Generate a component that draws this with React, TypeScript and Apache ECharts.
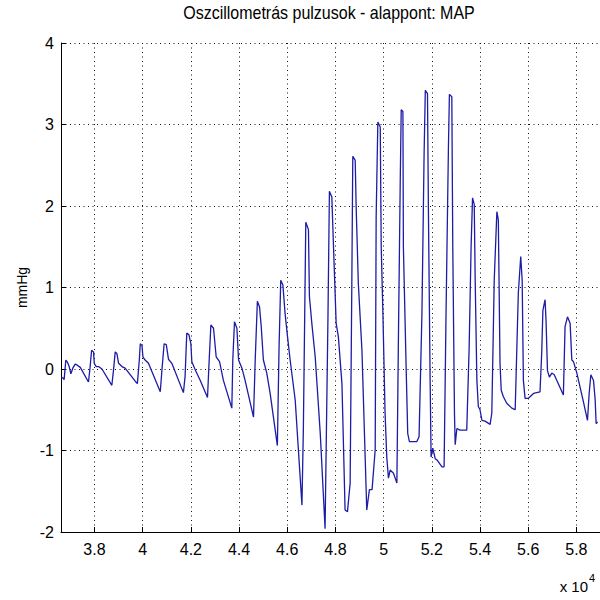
import React, { useEffect, useRef } from "react";
import * as echarts from "echarts";

const titleText = "Oszcillometrás pulzusok - alappont: MAP";
const yAxisName = "mmHg";
const xExponentBase = "x 10";
const xExponent = "4";

const xTickValues = [38000, 40000, 42000, 44000, 46000, 48000, 50000, 52000, 54000, 56000, 58000];
const yTickValues = [-2, -1, 0, 1, 2, 3, 4];

const sampleTimes = [
  36620, 36690, 36740, 36810, 36880, 36950, 37020, 37100, 37200, 37270, 37410,
  37750, 37820, 37880, 37960, 37990, 38070, 38170, 38310,
  38720, 38790, 38860, 38930, 39000, 39140, 39270,
  39690, 39780, 39860, 39900, 39970, 40010, 40100, 40240,
  40730, 40800, 40890, 40980, 41070, 41210,
  41690, 41760, 41830, 41920, 42000, 42040, 42180, 42390,
  42690, 42760, 42830, 42940, 43050, 43190, 43350,
  43700, 43740, 43810, 43910, 43980, 44120, 44250,
  44600, 44670, 44760, 44850, 44920, 45010, 45150, 45290,
  45590, 45660, 45730, 45820, 45910, 46010, 46120, 46330,
  46610, 46670, 46770, 46880, 46920, 47020, 47160, 47370,
  47570, 47690, 47750, 47850, 47920, 48030, 48120, 48270,
  48400, 48500, 48610, 48680, 48720, 48820, 48860, 48950, 49100,
  49300, 49410, 49520, 49650, 49690, 49760, 49860, 49900, 49970, 50060,
  50130, 50200, 50270, 50410, 50550, 50610, 50690, 50730, 50800, 50820, 50930,
  51000, 51070, 51380, 51470, 51590, 51680, 51730, 51820, 51860, 51930,
  51970, 52040, 52140, 52230, 52420, 52510, 52590, 52690, 52730, 52830, 52870, 52940,
  52970, 53040, 53170, 53450, 53550, 53630, 53690, 53760, 53800, 53870,
  53930, 54000, 54080, 54210, 54420, 54490, 54590, 54700, 54760, 54830,
  54880, 54970, 55110, 55320, 55460, 55530, 55590, 55690, 55750, 55800,
  55870, 56010, 56220, 56490, 56560, 56610, 56700, 56740, 56800,
  56880, 56980, 57080, 57250, 57460, 57530, 57630, 57740, 57810, 57880,
  58020, 58150, 58290, 58460, 58530, 58600, 58710, 58780, 58820, 58880,
];

const pressureMmHg = [
  -0.10, -0.11, -0.13, 0.11, 0.08, 0.03, -0.06, 0.01, 0.06, 0.05, 0.02,
  -0.16, 0.03, 0.23, 0.21, 0.07, 0.03, 0.03, 0.0,
  -0.20, -0.01, 0.21, 0.19, 0.07, 0.03, 0.01,
  -0.15, -0.18, 0.11, 0.31, 0.29, 0.15, 0.11, 0.07,
  -0.28, -0.01, 0.31, 0.30, 0.12, 0.07,
  -0.29, -0.09, 0.44, 0.42, 0.31, 0.09, -0.01, -0.14,
  -0.35, 0.11, 0.54, 0.50, 0.15, 0.09, -0.14,
  -0.48, 0.11, 0.58, 0.50, 0.11, 0.01, -0.14,
  -0.59, 0.11, 0.83, 0.76, 0.52, 0.11, -0.05, -0.30,
  -0.94, 0.27, 1.09, 1.03, 0.68, 0.40, 0.11, -0.38,
  -1.67, -0.71, 1.80, 1.71, 0.89, 0.56, 0.15, -0.79,
  -1.96, 0.64, 2.18, 2.11, 1.50, 0.56, 0.40, -0.18,
  -1.73, -1.75, -1.40, 1.05, 2.61, 2.56, 1.99, 1.05, 0.23,
  -1.73, -1.48, -1.48, -0.99, 1.87, 3.03, 2.97, 1.50, 0.68, -0.54,
  -1.08, -1.34, -1.24, -1.28, -1.40, 0.27, 2.32, 3.18, 3.16, 1.50, 0.07,
  -0.79, -0.89, -0.89, -0.83, 0.68, 2.65, 3.42, 3.38, 1.91, -0.14,
  -1.08, -0.97, -1.10, -1.12, -1.20, -1.20, 0.68, 2.73, 3.37, 3.34, 1.50, -0.54,
  -0.93, -0.73, -0.75, -0.75, 0.27, 1.50, 2.10, 2.02, 1.09, -0.14,
  -0.46, -0.50, -0.63, -0.64, -0.68, -0.54, 1.09, 1.93, 1.83, 0.07,
  -0.26, -0.34, -0.42, -0.48, -0.50, 0.27, 0.93, 1.38, 1.09, -0.14,
  -0.36, -0.36, -0.30, -0.28, 0.19, 0.72, 0.85, 0.60, -0.02,
  -0.10, -0.05, -0.07, -0.18, -0.32, 0.52, 0.64, 0.56, 0.11, 0.09,
  -0.05, -0.22, -0.40, -0.63, -0.30, -0.07, -0.14, -0.38, -0.67, -0.65,
];

const FONT = "'Liberation Sans', Arial, Helvetica, sans-serif";

export default function App() {
  const ref = useRef<HTMLDivElement>(null);

  useEffect(() => {
    if (!ref.current) return;
    const chart = echarts.init(ref.current, null, { renderer: "svg" });
    const seriesData = sampleTimes.map((t, i) => [t, pressureMmHg[i]]);
    const dotted = { color: "#111", width: 1, type: [1, 3.5] as number[] };

    chart.setOption({
      animation: false,
      backgroundColor: "#ffffff",
      textStyle: { fontFamily: FONT },
      grid: { left: 61, right: 0, top: 43, bottom: 68, containLabel: false },
      xAxis: {
        type: "value",
        min: 36610,
        max: 58980,
        axisLine: { show: true, onZero: false, lineStyle: { color: "#000", width: 1 } },
        axisTick: { show: true, inside: true, length: 5, customValues: xTickValues, lineStyle: { color: "#000" } },
        axisLabel: {
          show: true,
          customValues: xTickValues,
          margin: 9,
          color: "#000",
          fontSize: 16,
          fontFamily: FONT,
          formatter: (v: number) => String(v / 10000),
        },
        splitLine: { show: true, lineStyle: dotted },
      },
      yAxis: {
        type: "value",
        min: yTickValues[0],
        max: yTickValues[yTickValues.length - 1],
        interval: 1,
        name: yAxisName,
        nameLocation: "middle",
        nameRotate: 90,
        nameGap: 32,
        nameTextStyle: { color: "#000", fontSize: 14, fontFamily: FONT },
        axisLine: { show: true, onZero: false, lineStyle: { color: "#000", width: 1 } },
        axisTick: { show: true, inside: true, length: 5, lineStyle: { color: "#000" } },
        axisLabel: { show: true, margin: 7, color: "#000", fontSize: 16, fontFamily: FONT },
        splitLine: { show: true, lineStyle: dotted },
      },
      series: [
        {
          type: "line",
          data: seriesData,
          showSymbol: false,
          symbol: "none",
          lineStyle: { color: "#1c1ca6", width: 1.3 },
          clip: true,
        },
      ],
      graphic: [
        {
          type: "text",
          x: 329,
          y: 13,
          scaleY: 1.15,
          style: {
            text: titleText,
            fill: "#000",
            font: `16px ${FONT}`,
            textAlign: "center",
            textVerticalAlign: "middle",
          },
        },
        {
          type: "text",
          x: 588,
          y: 594,
          style: {
            text: xExponentBase,
            fill: "#000",
            font: `15px ${FONT}`,
            textAlign: "right",
            textVerticalAlign: "bottom",
          },
        },
        {
          type: "text",
          x: 589,
          y: 583,
          style: {
            text: xExponent,
            fill: "#000",
            font: `11px ${FONT}`,
            textAlign: "left",
            textVerticalAlign: "bottom",
          },
        },
      ],
    });

    return () => {
      chart.dispose();
    };
  }, []);

  return (
    <div
      ref={ref}
      style={{ position: "fixed", left: 0, top: 0, width: 600, height: 600, background: "#fff" }}
    />
  );
}
